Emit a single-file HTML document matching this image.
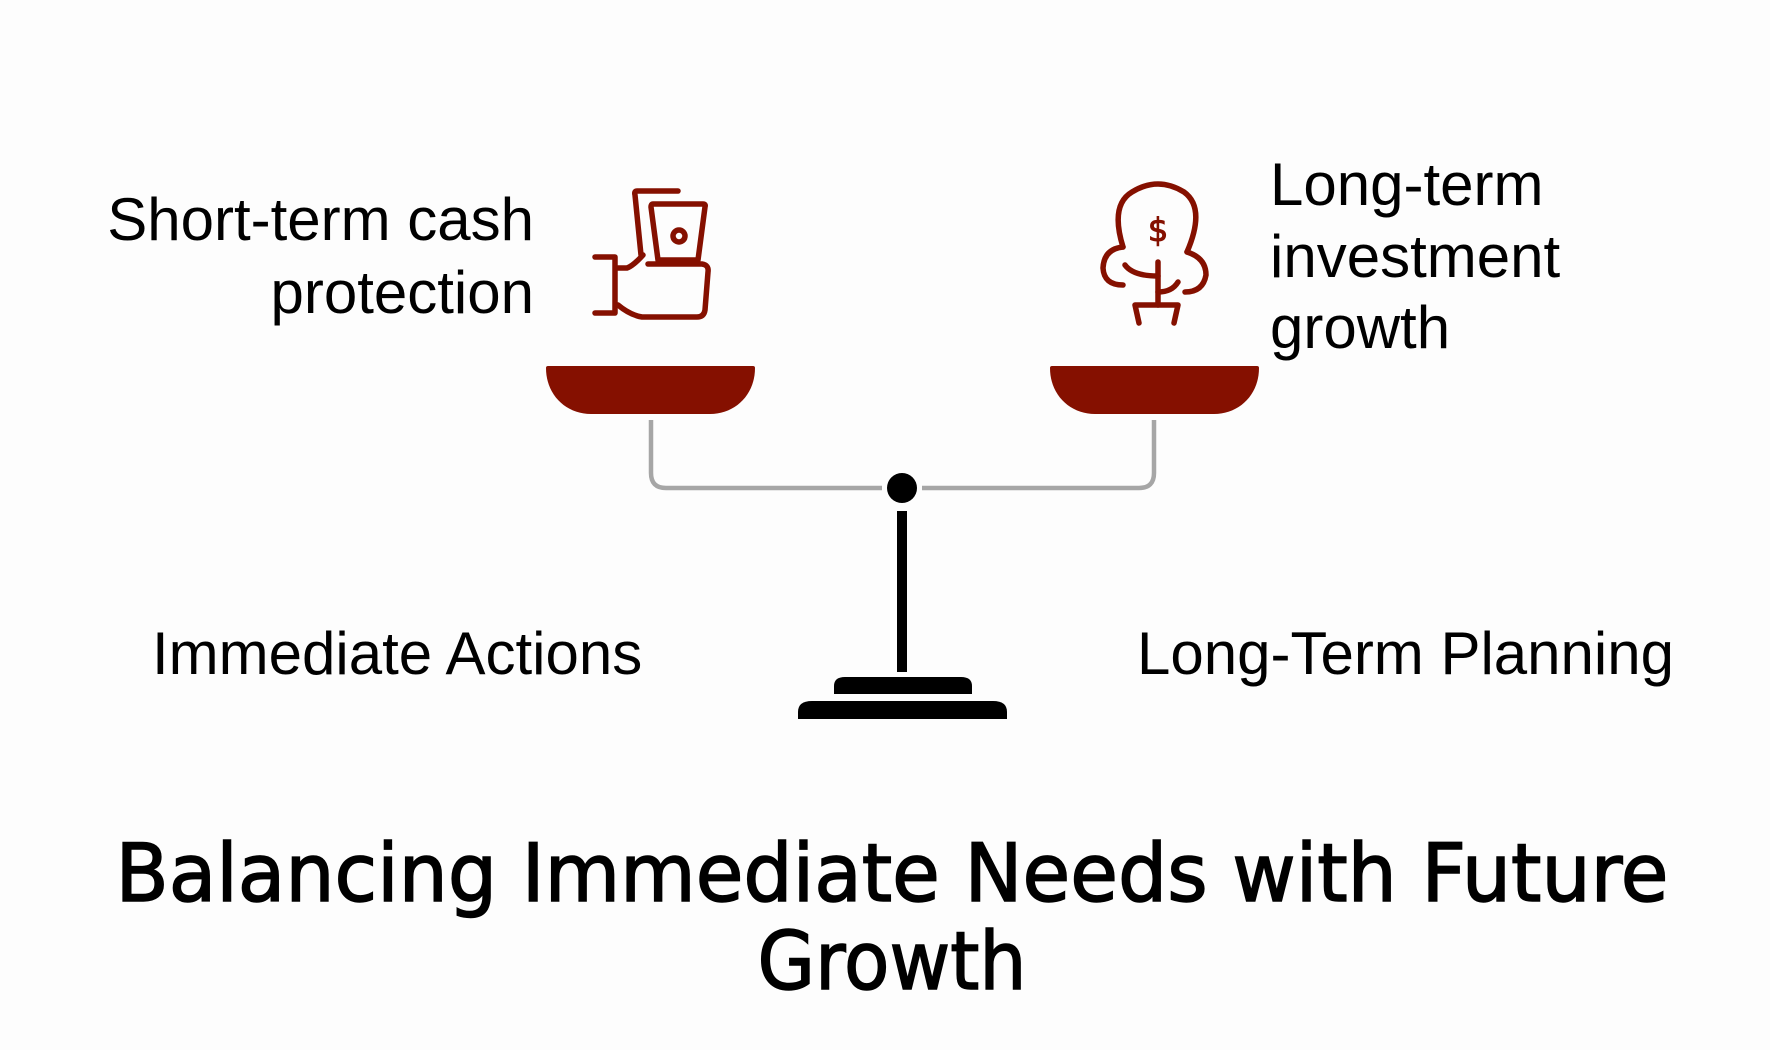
<!DOCTYPE html>
<html><head><meta charset="utf-8"><style>
html,body{margin:0;padding:0;background:#fdfdfd;}
svg{display:block;}
</style></head><body>
<svg width="1770" height="1050" viewBox="0 0 1770 1050" xmlns="http://www.w3.org/2000/svg">
<rect width="1770" height="1050" fill="#fdfdfd"/>
<g font-family="'Liberation Sans', sans-serif" font-size="60" fill="#000">
<text x="534" y="240" text-anchor="end">Short-term cash</text>
<text x="534" y="313" text-anchor="end">protection</text>
<text x="1270" y="205">Long-term</text>
<text x="1270" y="277">investment</text>
<text x="1270" y="348">growth</text>
<text x="152" y="674">Immediate Actions</text>
<text x="1137" y="674">Long-Term Planning</text>
</g>
<g font-family="'DejaVu Sans', sans-serif" font-size="80" fill="#000" stroke="#000" stroke-width="1.5" text-anchor="middle">
<text x="892" y="901" textLength="1553" lengthAdjust="spacingAndGlyphs">Balancing Immediate Needs with Future</text>
<text x="892" y="989" textLength="269" lengthAdjust="spacingAndGlyphs">Growth</text>
</g>
<!-- connector -->
<path d="M651,420 L651,473 Q651,488 666,488 L882,488 M922,488 L1139,488 Q1154,488 1154,473 L1154,420" fill="none" stroke="#a6a6a6" stroke-width="4.5"/>
<circle cx="902" cy="488" r="15" fill="#000"/>
<rect x="897" y="511" width="10" height="161" fill="#000"/>
<path d="M834,694 L834,686 Q834,677 845,677 L961,677 Q972,677 972,686 L972,694 Z" fill="#000"/>
<path d="M798,719 L798,712 Q798,701 812,701 L993,701 Q1007,701 1007,712 L1007,719 Z" fill="#000"/>
<!-- pans -->
<path d="M546,368 Q546,366 548,366 L753,366 Q755,366 755,368 C755,395 735,414 710,414 L591,414 C566,414 546,395 546,368 Z" fill="#851000"/>
<path d="M1050,368 Q1050,366 1052,366 L1257,366 Q1259,366 1259,368 C1259,395 1239,414 1214,414 L1095,414 C1070,414 1050,395 1050,368 Z" fill="#851000"/>
<!-- cash icon -->
<g fill="none" stroke="#851000" stroke-width="5.5" stroke-linecap="round" stroke-linejoin="round">
<path d="M595,257 L615,257 L615,313 L595,313"/>
<path d="M618,268 L627,268 Q633,266 643,255"/>
<path d="M678,191 L637,191 Q634,191 635,195 L641,255"/>
<path d="M653,204 L703,204 Q706,204 705,207 L698,260 L658,260 L651,207 Q651,204 653,204 Z"/>
<circle cx="679" cy="236" r="6"/>
<path d="M648,264 L702,264 Q709,265 708,272 L705,310 Q704,317 697,317 L642,317 Q630,315 618,305"/>
</g>
<!-- tree icon -->
<g fill="none" stroke="#851000" stroke-width="5.5" stroke-linecap="round" stroke-linejoin="round">
<path d="M1123,247 Q1110,205 1132,192 Q1158,176 1184,192 Q1206,208 1187,252"/>
<path d="M1123,247 Q1104,249 1103,268 Q1104,285 1123,285"/>
<path d="M1187,252 Q1206,258 1206,275 Q1203,292 1185,292"/>
<path d="M1158,262 L1158,305"/>
<path d="M1125,265 Q1133,276 1158,276"/>
<path d="M1178,282 Q1172,292 1158,292"/>
<path d="M1139,323 L1135,305 L1178,305 L1174,323"/>
</g>
<text x="1158" y="241" font-family="'DejaVu Sans', sans-serif" font-size="32" fill="#851000" stroke="#851000" stroke-width="1" text-anchor="middle">$</text>
</svg>
</body></html>
